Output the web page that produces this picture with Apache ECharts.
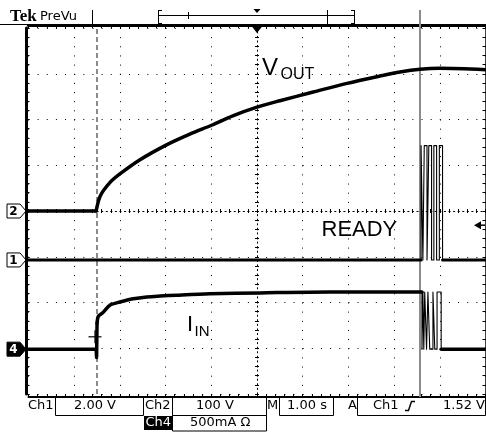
<!DOCTYPE html>
<html><head><meta charset="utf-8">
<script src="https://cdn.jsdelivr.net/npm/echarts@6/dist/echarts.min.js"></script>
<style>html,body{margin:0;padding:0;background:#fff}#c{width:486px;height:433px}</style>
</head><body><div id="c"></div>
<script>
// ---- data (time in s relative to screen centre, 1.00 s/div) ----
const X_MIN = -5, X_MAX = 5;          // horizontal divisions
const Y_MIN = -4, Y_MAX = 4;          // vertical divisions
// Ch2 : V_OUT (100 V/div)
const VOUT_FLAT_T = [-5, -3.52];
const VOUT_T = [-3.52, -3.43, -3.22, -3.0, -2.56, -1.99, -1.47, -0.98, -0.53, 0, 0.5, 1.23, 1.97, 2.69, 3.13, 3.57, 4.0, 5];
const VOUT_V = [0, 33, 62, 81, 112, 144, 168, 188, 208, 227, 241, 260, 279, 295, 304, 310, 312, 309];
// Ch4 : I_IN (500 mA/div)
const IIN_STEP_T  = [-5, -3.52, -3.51, -3.50];
const IIN_STEP_MA = [0, 0, -90, 285];
const IIN_T  = [-3.50, -3.47, -3.37, -3.22, -3.0, -2.71, -2.41, -2.12, -1.75, -1.03, 0.07, 1.6, 3.61];
const IIN_MA = [285, 360, 400, 480, 515, 550, 570, 580, 590, 605, 615, 625, 625];
const IIN_HIGH = 625, IIN_LOW = 0;
const IIN_EDGES = [3.61, 3.63, 3.65, 3.67, 3.71, 3.74, 3.78, 3.85, 3.89, 3.94, 4.03];
// Ch1 : READY (2.00 V/div)
const READY_LOW = 0, READY_HIGH = 5.0;
const READY_EDGES = [3.59, 3.63, 3.66, 3.72, 3.76, 3.82, 3.87, 3.93, 3.99, 4.06];
// channel scales (unit/div) and ground offsets (div)
const CH1 = {name: '1', scale: 2, offset: -1.07};
const CH2 = {name: '2', scale: 100, offset: 0};
const CH4 = {name: '4', scale: 500, offset: -3.02};
const TRIG_T = -3.5, CURSOR_T = 3.57, TRIG_LEVEL = 1.52;
const CROSS = [-3.545, -2.75];
const READOUT = {ch1: '2.00 V', ch2: '100 V', ch4: '500mA \u03A9', time: '1.00 s', trig: '1.52 V'};

const toDiv = (ch, v) => ch.offset + v / ch.scale;

// ---- build series data ----
const voutFlat = VOUT_FLAT_T.map(t => [t, toDiv(CH2, 0)]);
const voutData = VOUT_T.map((t, i) => [t, toDiv(CH2, VOUT_V[i])]);
const iinStep = IIN_STEP_T.map((t, i) => [t, toDiv(CH4, IIN_STEP_MA[i])]);
const iinMain = IIN_T.map((t, i) => [t, toDiv(CH4, IIN_MA[i])]);
const iinBurst = [];
let lv = IIN_HIGH;
IIN_EDGES.forEach(e => { iinBurst.push([e, toDiv(CH4, lv)]); lv = (lv === IIN_HIGH ? IIN_LOW : IIN_HIGH); iinBurst.push([e, toDiv(CH4, lv)]); });
const iinTail = [[IIN_EDGES[IIN_EDGES.length - 1], toDiv(CH4, lv)], [X_MAX, toDiv(CH4, lv)]];
const readyHead = [[X_MIN, toDiv(CH1, READY_LOW)], [READY_EDGES[0], toDiv(CH1, READY_LOW)]];
const readyBurst = [];
let rv = READY_LOW;
READY_EDGES.forEach(e => { readyBurst.push([e, toDiv(CH1, rv)]); rv = (rv === READY_LOW ? READY_HIGH : READY_LOW); readyBurst.push([e, toDiv(CH1, rv)]); });
const readyTail = [[READY_EDGES[READY_EDGES.length - 1], toDiv(CH1, rv)], [X_MAX, toDiv(CH1, rv)]];

const BLACK = '#000';
const chart = echarts.init(document.getElementById('c'), null, {renderer: 'canvas'});

const xBase = {type: 'value', min: X_MIN, max: X_MAX, interval: 1, axisLabel: {show: false}, splitLine: {show: false}};
const yBase = {type: 'value', min: Y_MIN, max: Y_MAX, interval: 1, axisLabel: {show: false}, splitLine: {show: false}};
const tick = (inside, len) => ({show: true, inside: inside, length: len, lineStyle: {color: BLACK, width: 1}});
const minor = (len) => ({show: true, splitNumber: 5, length: len, lineStyle: {color: BLACK, width: 1}});

const line = (name, data, w, smooth) => ({
  name, type: 'line', data, showSymbol: false, symbol: 'none', animation: false, silent: true,
  smooth: smooth || false,
  lineStyle: {color: BLACK, width: w, join: 'round', cap: 'round'}, z: 5
});

const option = {
  animation: false,
  backgroundColor: '#fff',
  grid: {left: 28.5, top: 28, width: 457, height: 366, outerBoundsMode: 'none', containLabel: false},
  xAxis: [
    Object.assign({}, xBase, {position: 'bottom', offset: 3,
      axisLine: {show: true, onZero: false, lineStyle: {color: BLACK, width: 2}},
      axisTick: tick(true, 3), minorTick: minor(3),
      splitLine: {show: true, lineStyle: {color: BLACK, width: 1, type: [1, 8.15]}}}),
    Object.assign({}, xBase, {position: 'top', offset: 3,
      axisLine: {show: true, onZero: false, lineStyle: {color: BLACK, width: 3}},
      axisTick: tick(true, 3), minorTick: minor(3)}),
    Object.assign({}, xBase, {position: 'bottom',
      axisLine: {show: true, onZero: true, onZeroAxisIndex: 0, lineStyle: {color: BLACK, width: 1, type: [1.2, 3.37]}},
      axisTick: tick(true, 2), minorTick: minor(2)}),
    Object.assign({}, xBase, {position: 'bottom',
      axisLine: {show: true, onZero: true, onZeroAxisIndex: 0, lineStyle: {color: BLACK, width: 1, opacity: 0}},
      axisTick: tick(false, 2), minorTick: minor(2)})
  ],
  yAxis: [
    Object.assign({}, yBase, {position: 'left', offset: 2,
      axisLine: {show: true, onZero: false, lineStyle: {color: BLACK, width: 3}},
      axisTick: tick(true, 3), minorTick: minor(3),
      splitLine: {show: true, lineStyle: {color: BLACK, width: 1, type: [1, 8.14]}}}),
    Object.assign({}, yBase, {position: 'right', offset: 0,
      axisLine: {show: true, onZero: false, lineStyle: {color: BLACK, width: 1.5}},
      axisTick: tick(true, 3), minorTick: minor(3)}),
    Object.assign({}, yBase, {position: 'left',
      axisLine: {show: true, onZero: true, onZeroAxisIndex: 0, lineStyle: {color: BLACK, width: 1, type: [1.2, 3.37]}},
      axisTick: tick(true, 2), minorTick: minor(2)}),
    Object.assign({}, yBase, {position: 'left',
      axisLine: {show: true, onZero: true, onZeroAxisIndex: 0, lineStyle: {color: BLACK, width: 1, opacity: 0}},
      axisTick: tick(false, 2), minorTick: minor(2)})
  ],
  series: [
    Object.assign(line('V_OUT flat', voutFlat, 3.5), {
      markLine: {silent: true, symbol: 'none', animation: false, label: {show: false},
        lineStyle: {color: '#8a8a8a', width: 2, type: [5, 3]}, data: [{xAxis: TRIG_T}]}
    }),
    line('V_OUT', voutData, 3.5, 0.3),
    line('I_IN step', iinStep, 3.5),
    line('I_IN', iinMain, 3.5, 0.3),
    line('I_IN burst', iinBurst, 1.1),
    line('I_IN tail', iinTail, 3.5),
    line('READY', readyHead, 3),
    line('READY burst', readyBurst, 1.1),
    line('READY tail', readyTail, 3)
  ]
};
chart.setOption(option);

// ---- screen furniture ----
const px = (t, d) => chart.convertToPixel({xAxisIndex: 0, yAxisIndex: 0}, [t, d]);
const L = (x1, y1, x2, y2, w, color) => ({type: 'line', silent: true, shape: {x1, y1, x2, y2}, style: {stroke: color || BLACK, lineWidth: w || 1}});
const T = (s, x, y, font, opt) => {
  opt = opt || {};
  return {type: 'text', silent: true, x, y, z: 10,
    style: {text: s, font, fill: opt.fill || BLACK, align: opt.align || 'left', textAlign: opt.align || 'left',
      verticalAlign: 'middle', textVerticalAlign: 'middle'}};
};
const P = (points, fill, stroke, w) => ({type: 'polygon', silent: true, shape: {points}, style: {fill: fill, stroke: stroke || null, lineWidth: w || 1}});
const R = (x, y, w, h, fill, stroke) => ({type: 'rect', silent: true, shape: {x, y, width: w, height: h}, style: {fill: fill || 'none', stroke: stroke || null, lineWidth: 1}});

const g = [];
const SANS = '"DejaVu Sans"';
const ARIAL = '"Liberation Sans"';
// top bar
g.push(T('Tek', 10, 16.5, 'bold 17px "Liberation Serif"'));
g.push(T('PreVu', 40, 16.5, '13px ' + SANS));
g.push(L(0, 24.5, 92, 24.5, 1));
g.push(L(92.5, 10, 92.5, 25, 1));
g.push(L(158.5, 10, 158.5, 24, 1), L(158.5, 10.5, 162, 10.5, 1), L(158.5, 23.5, 162, 23.5, 1));
g.push(L(158, 15.5, 354, 15.5, 1));
g.push(L(188.5, 12, 188.5, 19, 1));
g.push(L(327.5, 10, 327.5, 24, 1));
g.push(L(354.5, 10, 354.5, 24, 1), L(351, 10.5, 354.5, 10.5, 1), L(351, 23.5, 354.5, 23.5, 1));
const cx0 = px(0, 0)[0];
g.push(P([[cx0 - 3.5, 9], [cx0 + 3.5, 9], [cx0, 13]], BLACK));
g.push(P([[cx0 - 5.5, 26], [cx0 + 5.5, 26], [cx0, 33]], BLACK));
// cursor
const curX = Math.round(px(CURSOR_T, 0)[0]);
g.push(Object.assign(L(curX, 10, curX, 397, 2, '#8c8c8c'), {z: 1}));
// crosshair
const cp = px(CROSS[0], CROSS[1]);
g.push(Object.assign(L(cp[0] - 6.5, cp[1], cp[0] + 6.5, cp[1], 1.2), {z: 20}), Object.assign(L(cp[0], cp[1] - 6.5, cp[0], cp[1] + 6.5, 1.2), {z: 20}));
// channel ground markers
[[CH2, false], [CH1, false], [CH4, true]].forEach(([ch, inv]) => {
  const y = px(0, ch.offset)[1];
  g.push(P([[7, y - 7], [20, y - 7], [26, y], [20, y + 7], [7, y + 7]], inv ? BLACK : '#fff', BLACK, 1));
  g.push(T(ch.name, 13.5, y + 0.5, 'bold 12px ' + SANS, {align: 'center', fill: inv ? '#fff' : BLACK}));
});
// trigger level arrow (on Ch1)
const ty = px(0, toDiv(CH1, TRIG_LEVEL))[1];
g.push(P([[474, ty], [481, ty - 4], [481, ty + 4]], BLACK));
g.push(L(481, ty, 485, ty, 1.5));
// waveform labels
g.push(T('V', 262, 68.5, '24px ' + ARIAL), T('OUT', 280.5, 74.5, '16px ' + ARIAL));
g.push(T('READY', 321.5, 229.5, '22px ' + ARIAL));
g.push(T('I', 187, 325, '22px ' + ARIAL), T('IN', 194.5, 331.5, '15px ' + ARIAL));
// bottom readout
const r1 = 406, r2 = 423;
g.push(T('Ch1', 28, r1, '13px ' + SANS));
g.push(R(55.5, 397, 88, 18.5, 'none', BLACK));
g.push(T(READOUT.ch1, 95, r1, '13px ' + SANS, {align: 'center'}));
g.push(T('Ch2', 145, r1, '13px ' + SANS));
g.push(R(172.5, 397, 94, 18.5, 'none', BLACK));
g.push(T(READOUT.ch2, 215, r1, '13px ' + SANS, {align: 'center'}));
g.push(T('M', 267, r1, '13px ' + SANS));
g.push(R(279.5, 397, 54, 18.5, 'none', BLACK));
g.push(T(READOUT.time, 307, r1, '13px ' + SANS, {align: 'center'}));
g.push(T('A', 348, r1, '13px ' + SANS));
g.push(R(357.5, 397, 128, 18.5, 'none', BLACK));
g.push(T('Ch1', 373, r1, '13px ' + SANS));
g.push({type: 'polyline', silent: true, shape: {points: [[405, 410.5], [408.5, 410.5], [411.5, 401.5], [415, 401.5]]}, style: {stroke: BLACK, lineWidth: 1.4, fill: null}});
g.push(T(READOUT.trig, 485, r1, '13px ' + SANS, {align: 'right'}));
g.push(R(144, 416, 28, 14, BLACK, null));
g.push(T('Ch4', 145.5, r2, '13px ' + SANS, {fill: '#fff'}));
g.push(R(172.5, 415.5, 94, 15.5, 'none', BLACK));
g.push(T(READOUT.ch4, 190, r2, '13px ' + SANS));

chart.setOption({graphic: {elements: g}});
</script></body></html>
